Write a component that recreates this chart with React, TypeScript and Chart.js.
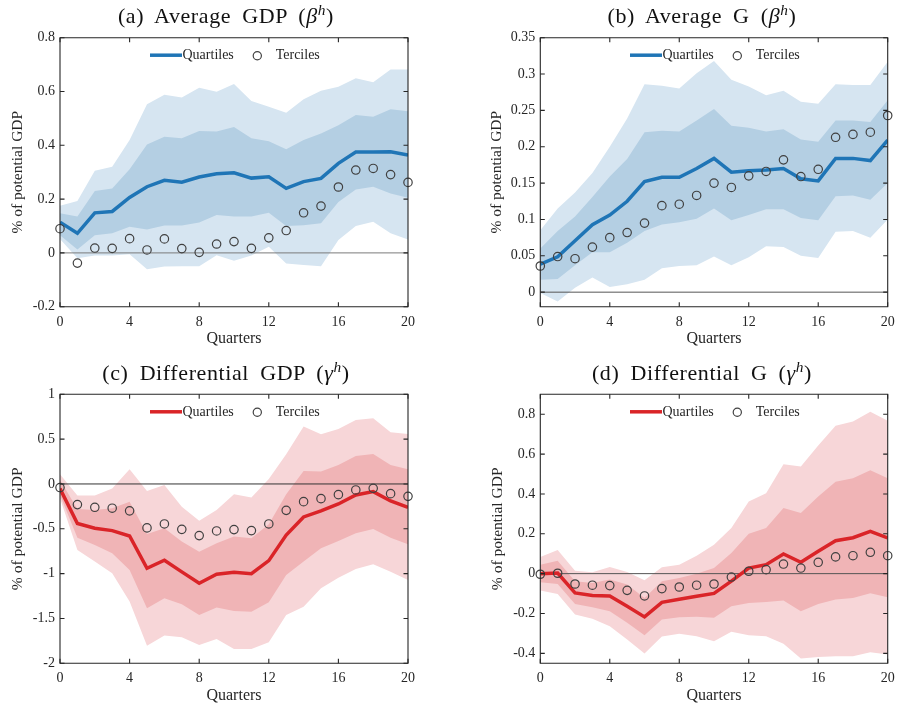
import React, { useEffect, useRef } from "react";
import { Chart, registerables } from "chart.js";
Chart.register(...registerables);

// ---------- data ----------
const quarters = [0, 1, 2, 3, 4, 5, 6, 7, 8, 9, 10, 11, 12, 13, 14, 15, 16, 17, 18, 19, 20];
const xTickValues = [0, 4, 8, 12, 16, 20];

// (a) Average GDP
const avgGdpQuartiles = [0.114, 0.073, 0.149, 0.154, 0.206, 0.246, 0.27, 0.263, 0.282, 0.294, 0.298, 0.278, 0.283, 0.24, 0.265, 0.277, 0.333, 0.375, 0.375, 0.376, 0.364];
const avgGdpTerciles = [0.09, -0.038, 0.018, 0.017, 0.053, 0.011, 0.052, 0.016, 0.002, 0.033, 0.042, 0.017, 0.056, 0.083, 0.149, 0.174, 0.245, 0.308, 0.314, 0.291, 0.262];
const avgGdpOuterHi = [0.175, 0.193, 0.305, 0.32, 0.42, 0.553, 0.588, 0.578, 0.614, 0.599, 0.628, 0.565, 0.543, 0.521, 0.571, 0.603, 0.618, 0.649, 0.634, 0.682, 0.682];
const avgGdpInnerHi = [0.147, 0.135, 0.23, 0.239, 0.311, 0.403, 0.432, 0.426, 0.453, 0.451, 0.468, 0.426, 0.415, 0.385, 0.42, 0.444, 0.475, 0.513, 0.506, 0.534, 0.527];
const avgGdpInnerLo = [0.066, 0.013, 0.066, 0.073, 0.097, 0.087, 0.102, 0.102, 0.113, 0.141, 0.135, 0.135, 0.149, 0.1, 0.103, 0.11, 0.189, 0.236, 0.246, 0.221, 0.205];
const avgGdpOuterLo = [0.052, -0.02, -0.01, -0.01, -0.005, -0.061, -0.051, -0.05, -0.05, -0.009, -0.029, -0.01, 0.023, -0.039, -0.045, -0.05, 0.048, 0.1, 0.116, 0.073, 0.05];
const avgGdpYTicks = [-0.2, 0, 0.2, 0.4, 0.6, 0.8];

// (b) Average G
const avgGQuartiles = [0.0385, 0.0486, 0.0706, 0.0927, 0.106, 0.125, 0.152, 0.158, 0.158, 0.17, 0.184, 0.165, 0.167, 0.168, 0.17, 0.156, 0.153, 0.184, 0.184, 0.181, 0.209];
const avgGTerciles = [0.036, 0.049, 0.046, 0.062, 0.075, 0.082, 0.095, 0.119, 0.121, 0.133, 0.15, 0.144, 0.16, 0.166, 0.182, 0.159, 0.169, 0.213, 0.217, 0.22, 0.243];
const avgGOuterHi = [0.085, 0.115, 0.137, 0.164, 0.2, 0.239, 0.286, 0.284, 0.28, 0.301, 0.318, 0.292, 0.283, 0.271, 0.277, 0.262, 0.259, 0.286, 0.285, 0.285, 0.317];
const avgGInnerHi = [0.06, 0.084, 0.104, 0.131, 0.159, 0.183, 0.22, 0.222, 0.221, 0.236, 0.252, 0.229, 0.226, 0.221, 0.224, 0.21, 0.207, 0.236, 0.236, 0.234, 0.264];
const avgGInnerLo = [0.017, 0.018, 0.037, 0.055, 0.055, 0.068, 0.084, 0.093, 0.096, 0.101, 0.115, 0.099, 0.106, 0.114, 0.114, 0.102, 0.099, 0.132, 0.133, 0.127, 0.15];
const avgGOuterLo = [-0.001, -0.013, 0.006, 0.02, 0.007, 0.011, 0.017, 0.033, 0.036, 0.037, 0.049, 0.037, 0.048, 0.063, 0.062, 0.05, 0.047, 0.083, 0.084, 0.075, 0.1];
const avgGYTicks = [0, 0.05, 0.1, 0.15, 0.2, 0.25, 0.3, 0.35];

// (c) Differential GDP
const diffGdpQuartiles = [-0.05, -0.44, -0.494, -0.52, -0.58, -0.94, -0.85, -0.98, -1.108, -1.007, -0.985, -1.0, -0.855, -0.569, -0.368, -0.3, -0.223, -0.123, -0.085, -0.19, -0.26];
const diffGdpTerciles = [-0.04, -0.23, -0.26, -0.27, -0.3, -0.49, -0.446, -0.506, -0.576, -0.524, -0.509, -0.52, -0.446, -0.294, -0.197, -0.164, -0.119, -0.067, -0.048, -0.108, -0.138];
const diffGdpOuterHi = [0.108, -0.13, -0.13, -0.05, 0.164, -0.078, -0.011, -0.253, -0.409, -0.29, -0.115, -0.152, 0.056, 0.331, 0.64, 0.554, 0.613, 0.714, 0.732, 0.576, 0.558];
const diffGdpInnerHi = [0.045, -0.279, -0.29, -0.27, -0.197, -0.558, -0.494, -0.643, -0.755, -0.662, -0.587, -0.606, -0.45, -0.115, 0.145, 0.138, 0.212, 0.312, 0.335, 0.212, 0.164];
const diffGdpInnerLo = [-0.123, -0.6, -0.68, -0.773, -0.959, -1.387, -1.275, -1.342, -1.461, -1.379, -1.416, -1.424, -1.32, -1.015, -0.866, -0.717, -0.636, -0.55, -0.502, -0.6, -0.673];
const diffGdpOuterLo = [-0.16, -0.736, -0.866, -0.996, -1.312, -1.803, -1.691, -1.71, -1.796, -1.729, -1.84, -1.84, -1.766, -1.461, -1.368, -1.164, -1.045, -0.948, -0.896, -0.978, -1.071];
const diffGdpYTicks = [-2, -1.5, -1, -0.5, 0, 0.5, 1];

// (d) Differential G
const diffGQuartiles = [0.0, 0.003, -0.097, -0.11, -0.112, -0.164, -0.217, -0.144, -0.129, -0.114, -0.099, -0.038, 0.028, 0.045, 0.099, 0.057, 0.112, 0.165, 0.18, 0.212, 0.179];
const diffGTerciles = [-0.003, 0.002, -0.052, -0.058, -0.06, -0.084, -0.112, -0.075, -0.067, -0.058, -0.052, -0.017, 0.012, 0.02, 0.048, 0.028, 0.057, 0.084, 0.09, 0.107, 0.09];
const diffGOuterHi = [0.084, 0.119, 0.015, 0.007, 0.033, 0.008, -0.033, 0.032, 0.045, 0.09, 0.145, 0.229, 0.362, 0.404, 0.549, 0.538, 0.643, 0.742, 0.763, 0.813, 0.767];
const diffGInnerHi = [0.045, 0.065, -0.038, -0.047, -0.03, -0.055, -0.122, -0.038, -0.022, 0.0, 0.028, 0.104, 0.2, 0.229, 0.329, 0.304, 0.387, 0.461, 0.479, 0.519, 0.479];
const diffGInnerLo = [-0.043, -0.052, -0.152, -0.169, -0.189, -0.247, -0.309, -0.23, -0.219, -0.217, -0.222, -0.164, -0.147, -0.142, -0.135, -0.189, -0.152, -0.13, -0.122, -0.099, -0.119];
const diffGOuterLo = [-0.085, -0.102, -0.205, -0.227, -0.264, -0.331, -0.401, -0.316, -0.302, -0.314, -0.339, -0.292, -0.309, -0.314, -0.352, -0.426, -0.418, -0.414, -0.414, -0.394, -0.406];
const diffGYTicks = [-0.4, -0.2, 0, 0.2, 0.4, 0.6, 0.8];

const zeroLine = [0, 0];
const zeroLineX = [0, 20];

const seriesLabels = ["Quartiles", "Terciles"];
const xAxisTitle = "Quarters";
const yAxisTitle = "% of potential GDP";

// ---------- style ----------
const FONT = '"Liberation Serif", "Times New Roman", serif';
const AXIS = "#262626";
const BLUE = { line: "rgb(31,117,182)", light: "rgb(214,229,241)", dark: "rgb(180,207,227)" };
const RED = { line: "rgb(218,36,40)", light: "rgb(247,214,216)", dark: "rgb(240,180,182)" };

type PanelCfg = {
  key: string;
  title: string;
  greek: string;
  quart: number[];
  terc: number[];
  outerHi: number[];
  innerHi: number[];
  innerLo: number[];
  outerLo: number[];
  yTicks: number[];
  yMin: number;
  yMax: number;
  colors: { line: string; light: string; dark: string };
  zeroColor: string;
  canvas: { x: number; y: number; w: number; h: number };
  area: { l: number; t: number; r: number; b: number };
  yTitlePad: number;
  titleCx: number;
  titleTop: number;
};

const panels: PanelCfg[] = [
  {
    key: "a", title: "(a) Average GDP", greek: "β",
    quart: avgGdpQuartiles, terc: avgGdpTerciles, outerHi: avgGdpOuterHi, innerHi: avgGdpInnerHi, innerLo: avgGdpInnerLo, outerLo: avgGdpOuterLo,
    yTicks: avgGdpYTicks, yMin: -0.2, yMax: 0.8, colors: BLUE, zeroColor: "#7a7a7a",
    canvas: { x: 0, y: 20, w: 448, h: 330 }, area: { l: 60, t: 37.7, r: 408, b: 306.7 }, yTitlePad: 9,
    titleCx: 226, titleTop: 5.2,
  },
  {
    key: "b", title: "(b) Average G", greek: "β",
    quart: avgGQuartiles, terc: avgGTerciles, outerHi: avgGOuterHi, innerHi: avgGInnerHi, innerLo: avgGInnerLo, outerLo: avgGOuterLo,
    yTicks: avgGYTicks, yMin: -0.02, yMax: 0.35, colors: BLUE, zeroColor: "#555555",
    canvas: { x: 448, y: 20, w: 449, h: 330 }, area: { l: 540.3, t: 37.7, r: 887.7, b: 306.7 }, yTitlePad: 39.4,
    titleCx: 702, titleTop: 5.2,
  },
  {
    key: "c", title: "(c) Differential GDP", greek: "γ",
    quart: diffGdpQuartiles, terc: diffGdpTerciles, outerHi: diffGdpOuterHi, innerHi: diffGdpInnerHi, innerLo: diffGdpInnerLo, outerLo: diffGdpOuterLo,
    yTicks: diffGdpYTicks, yMin: -2, yMax: 1, colors: RED, zeroColor: "#333333",
    canvas: { x: 0, y: 375, w: 448, h: 332 }, area: { l: 60, t: 394.3, r: 408, b: 663.3 }, yTitlePad: 9,
    titleCx: 226, titleTop: 362.1,
  },
  {
    key: "d", title: "(d) Differential G", greek: "γ",
    quart: diffGQuartiles, terc: diffGTerciles, outerHi: diffGOuterHi, innerHi: diffGInnerHi, innerLo: diffGInnerLo, outerLo: diffGOuterLo,
    yTicks: diffGYTicks, yMin: -0.45, yMax: 0.9, colors: RED, zeroColor: "#555555",
    canvas: { x: 448, y: 375, w: 449, h: 332 }, area: { l: 540.3, t: 394.3, r: 887.7, b: 663.3 }, yTitlePad: 41,
    titleCx: 702, titleTop: 362.1,
  },
];

// ---------- plugins ----------
const framePlugin = {
  id: "frameTicks",
  afterDatasetsDraw(chart: any) {
    const { ctx, chartArea, scales } = chart;
    const { left, right, top, bottom } = chartArea;
    const tl = 4.5;
    ctx.save();
    ctx.strokeStyle = AXIS;
    ctx.lineWidth = 1.1;
    ctx.beginPath();
    ctx.rect(left, top, right - left, bottom - top);
    ctx.stroke();
    ctx.beginPath();
    for (const t of scales.x.ticks) {
      const px = scales.x.getPixelForValue(t.value);
      ctx.moveTo(px, bottom); ctx.lineTo(px, bottom - tl);
      ctx.moveTo(px, top); ctx.lineTo(px, top + tl);
    }
    for (const t of scales.y.ticks) {
      const py = scales.y.getPixelForValue(t.value);
      ctx.moveTo(left, py); ctx.lineTo(left + tl, py);
      ctx.moveTo(right, py); ctx.lineTo(right - tl, py);
    }
    ctx.stroke();
    ctx.restore();
  },
};

const legendPlugin = {
  id: "insideLegend",
  afterDatasetsDraw(chart: any) {
    const { ctx, chartArea } = chart;
    const cx = (chartArea.left + chartArea.right) / 2;
    const y = chartArea.top + 17.5;
    const ds = chart.data.datasets;
    const lineDs = ds.find((d: any) => d.label === seriesLabels[0]);
    const ptDs = ds.find((d: any) => d.label === seriesLabels[1]);
    ctx.save();
    ctx.strokeStyle = lineDs.borderColor;
    ctx.lineWidth = 3.5;
    ctx.beginPath();
    ctx.moveTo(cx - 84, y);
    ctx.lineTo(cx - 52, y);
    ctx.stroke();
    ctx.fillStyle = AXIS;
    ctx.font = `14px ${FONT}`;
    ctx.textBaseline = "middle";
    ctx.textAlign = "left";
    ctx.fillText(lineDs.label, cx - 51.5, y + 0.5);
    ctx.beginPath();
    ctx.arc(cx + 23.3, y + 0.5, 4.1, 0, Math.PI * 2);
    ctx.strokeStyle = ptDs.pointBorderColor;
    ctx.lineWidth = 1.2;
    ctx.stroke();
    ctx.fillText(ptDs.label, cx + 41.7, y + 0.5);
    ctx.restore();
  },
};

const fmt = (v: number) => String(Math.round(v * 1000) / 1000);

function Panel({ cfg }: { cfg: PanelCfg }) {
  const ref = useRef<HTMLCanvasElement | null>(null);
  useEffect(() => {
    if (!ref.current) return;
    const xy = (arr: number[]) => arr.map((y, i) => ({ x: quarters[i], y }));
    const band = (arr: number[], fill: any, color: string, order: number, label: string) => ({
      label,
      data: xy(arr),
      borderWidth: 0,
      borderColor: "rgba(0,0,0,0)",
      backgroundColor: color,
      pointRadius: 0,
      fill,
      order,
    });
    const { canvas: c, area: a } = cfg;
    const noPad = (s: any) => {
      s.paddingLeft = 0;
      s.paddingRight = 0;
      s.paddingTop = 0;
      s.paddingBottom = 0;
    };
    const chart = new Chart(ref.current, {
      type: "line",
      data: {
        datasets: [
          band(cfg.outerLo, false, cfg.colors.light, 5, "outerLo"),
          band(cfg.outerHi, "-1", cfg.colors.light, 5, "outerHi"),
          band(cfg.innerLo, false, cfg.colors.dark, 4, "innerLo"),
          band(cfg.innerHi, "-1", cfg.colors.dark, 4, "innerHi"),
          {
            label: "zero",
            data: zeroLineX.map((x, i) => ({ x, y: zeroLine[i] })),
            borderColor: cfg.zeroColor,
            borderWidth: 1,
            pointRadius: 0,
            fill: false,
            order: 3,
          },
          {
            label: seriesLabels[0],
            data: xy(cfg.quart),
            borderColor: cfg.colors.line,
            borderWidth: 3.5,
            pointRadius: 0,
            fill: false,
            order: 2,
            borderJoinStyle: "miter",
          },
          {
            label: seriesLabels[1],
            data: xy(cfg.terc),
            showLine: false,
            pointRadius: 4.2,
            pointBorderWidth: 1.2,
            pointBorderColor: "#404040",
            pointBackgroundColor: "rgba(0,0,0,0)",
            fill: false,
            order: 1,
            clip: false,
          },
        ] as any,
      },
      options: {
        animation: false,
        responsive: false,
        maintainAspectRatio: false,
        events: [],
        layout: {
          padding: { left: 0, bottom: 0, top: a.t - c.y, right: c.x + c.w - a.r },
        },
        plugins: {
          legend: { display: false },
          tooltip: { enabled: false },
          title: { display: false },
        },
        scales: {
          x: {
            type: "linear",
            min: 0,
            max: 20,
            afterBuildTicks: (s: any) => { s.ticks = xTickValues.map((v) => ({ value: v })); },
            afterFit: (s: any) => { s.height = c.y + c.h - a.b; noPad(s); },
            grid: { display: false, drawTicks: false },
            border: { display: false },
            ticks: { padding: 7, color: AXIS, font: { family: FONT, size: 14 }, maxRotation: 0, autoSkip: false, callback: (v: any) => fmt(Number(v)) },
            title: { display: true, text: xAxisTitle, color: AXIS, font: { family: FONT, size: 16 }, padding: { top: 0, bottom: 2 } },
          },
          y: {
            type: "linear",
            min: cfg.yMin,
            max: cfg.yMax,
            afterBuildTicks: (s: any) => { s.ticks = cfg.yTicks.map((v) => ({ value: v })); },
            afterFit: (s: any) => { s.width = a.l - c.x; noPad(s); },
            grid: { display: false, drawTicks: false },
            border: { display: false },
            ticks: { padding: 5, color: AXIS, font: { family: FONT, size: 14 }, autoSkip: false, callback: (v: any) => fmt(Number(v)) },
            title: { display: true, text: yAxisTitle, color: AXIS, font: { family: FONT, size: 15.5 }, padding: { top: cfg.yTitlePad, bottom: 0 } },
          },
        },
      } as any,
      plugins: [framePlugin, legendPlugin],
    });
    return () => chart.destroy();
  }, [cfg]);
  const { canvas: c } = cfg;
  return (
    <canvas
      ref={ref}
      width={c.w}
      height={c.h}
      style={{ position: "absolute", left: c.x, top: c.y, width: c.w, height: c.h }}
    />
  );
}

export default function App() {
  return (
    <div style={{ position: "absolute", left: 0, top: 0, width: 897, height: 707, background: "#fff", overflow: "hidden" }}>
      {panels.map((p) => (
        <Panel key={p.key} cfg={p} />
      ))}
      {panels.map((p) => (
        <div
          key={"t" + p.key}
          style={{
            position: "absolute",
            left: p.titleCx - 170,
            width: 340,
            top: p.titleTop,
            textAlign: "center",
            fontFamily: FONT,
            fontSize: 22,
            lineHeight: "22px",
            color: "#111",
            whiteSpace: "pre",
            wordSpacing: 5,
            letterSpacing: 0.6,
          }}
        >
          {p.title} (<i>{p.greek}</i>
          <sup style={{ fontSize: "0.7em", verticalAlign: "0.55em", lineHeight: 0 }}>
            <i>h</i>
          </sup>
          )
        </div>
      ))}
    </div>
  );
}
